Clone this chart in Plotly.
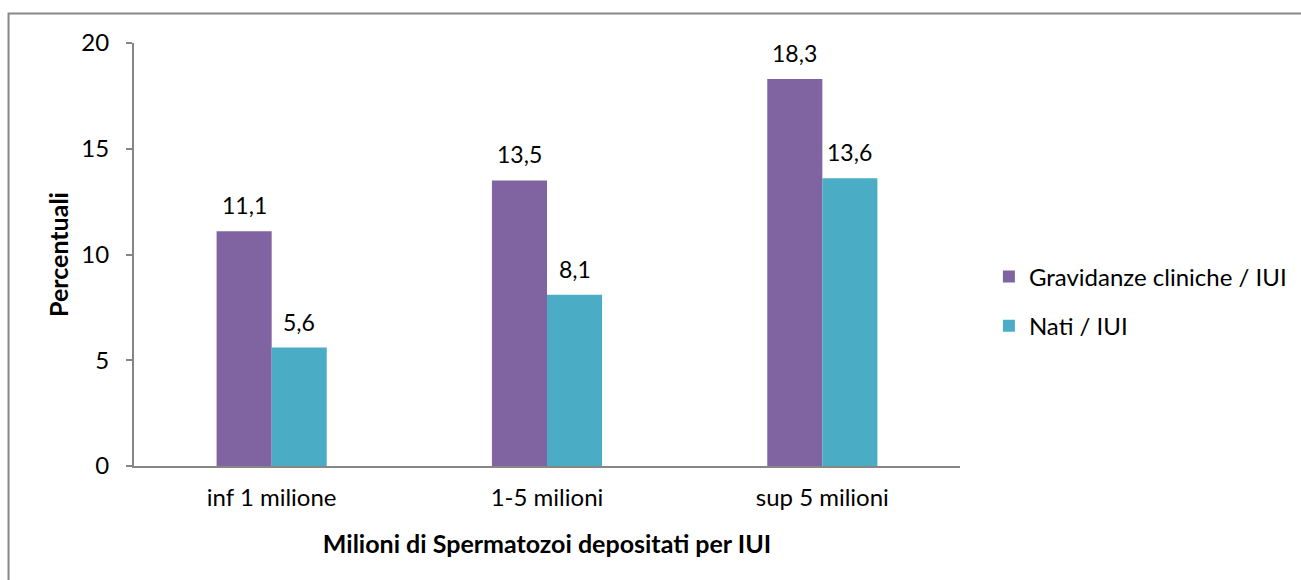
import plotly.graph_objects as go

categories = ["inf 1 milione", "1-5 milioni", "sup 5 milioni"]
gravidanze = [11.1, 13.5, 18.3]
nati = [5.6, 8.1, 13.6]

FONT = "Lato, Open Sans, sans-serif"
BAR_PX = 55  # width of one bar in pixels, used to centre labels

fig = go.Figure()

fig.add_trace(go.Bar(
    x=categories, y=gravidanze,
    name="Gravidanze cliniche / IUI",
    marker=dict(color="#8064A2", line=dict(width=0)),
    legendgroup="a",
))
fig.add_trace(go.Bar(
    x=categories, y=nati,
    name="Nati / IUI",
    marker=dict(color="#4BACC6", line=dict(width=0)),
    legendgroup="b",
))

# data labels above each bar
for vals, shift in [(gravidanze, -BAR_PX / 2), (nati, BAR_PX / 2)]:
    for cat, v in zip(categories, vals):
        fig.add_annotation(
            x=cat, y=v, xshift=shift, yshift=10,
            text=f"{v:.1f}".replace(".", ","),
            showarrow=False, yanchor="bottom",
            font=dict(size=23, color="black"),
        )

# Chart border (only top and left visible in the reference crop)
fig.add_shape(type="rect", xref="paper", yref="paper",
              x0=-0.1519, x1=1.6, y0=-0.6, y1=1.0697,
              line=dict(color="#878787", width=2), layer="below")

fig.update_layout(
    width=1301, height=580,
    margin=dict(l=134, r=341, t=43, b=114, autoexpand=False),
    plot_bgcolor="white", paper_bgcolor="white",
    barmode="group", bargap=0.6, bargroupgap=0,
    font=dict(family=FONT, size=24, color="black"),
    legend=dict(x=1.035, y=0.5, xanchor="left", yanchor="top",
                font=dict(size=24), traceorder="grouped",
                tracegroupgap=15, bgcolor="rgba(0,0,0,0)"),
)

fig.update_yaxes(
    range=[0, 20], dtick=5, showgrid=False, zeroline=False,
    showline=True, linecolor="#868686", linewidth=2,
    ticks="outside", ticklen=6, tickcolor="#868686", tickwidth=2,
    tickfont=dict(size=24), ticklabelstandoff=12,
    title=dict(text="<b>Percentuali</b>", font=dict(size=25), standoff=6),
)
fig.update_xaxes(
    showgrid=False, showline=True, linecolor="#868686", linewidth=2,
    ticks="", tickfont=dict(size=24), ticklabelstandoff=9,
    title=dict(text="<b>Milioni di Spermatozoi depositati per IUI</b>",
               font=dict(size=25), standoff=26),
)

fig.write_html("out.html", config={"displayModeBar": False},
               post_script="document.body.style.margin='0';document.body.style.overflow='hidden';")
